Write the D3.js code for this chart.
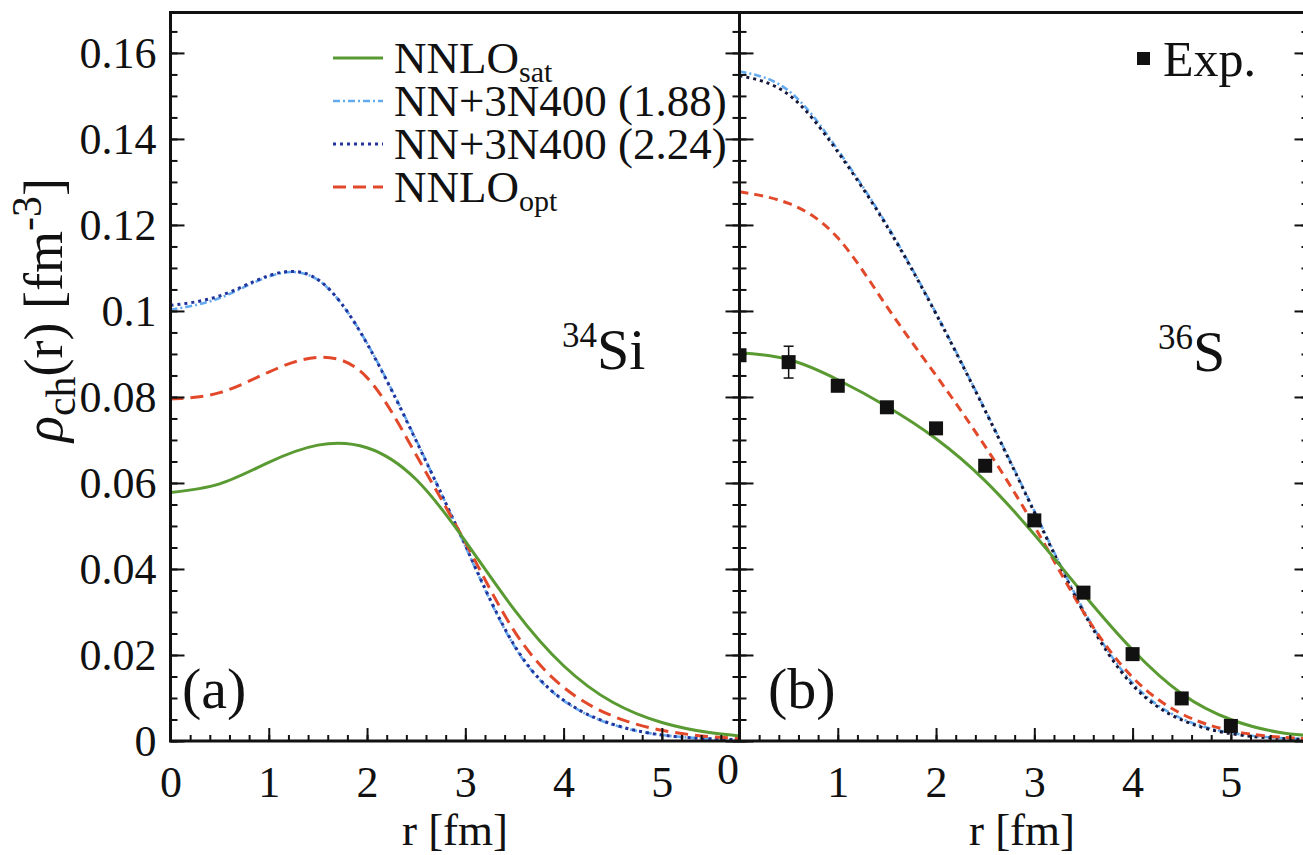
<!DOCTYPE html>
<html>
<head>
<meta charset="utf-8">
<script src="https://cdn.jsdelivr.net/npm/d3@7"></script>
<style>
body { margin: 0; background: #fff; }
text { font-family: "Liberation Serif", "Times New Roman", serif; fill: #111; }
</style>
</head>
<body>
<svg id="chart" width="1303" height="855"></svg>
<script>
// radius grid (fm) the curves were read on
var rGrid = [0, 0.5, 1, 1.5, 2, 2.5, 3, 3.5, 4, 4.5, 5, 5.5, 6];

// (a) 34Si
var satA  = [0.0578, 0.0598, 0.0648, 0.0688, 0.0682, 0.0608, 0.0465, 0.0305, 0.0175, 0.0090, 0.0043, 0.0019, 0.0008];
var n188A = [0.1003, 0.1030, 0.1080, 0.1072, 0.0925, 0.0700, 0.0453, 0.0220, 0.0094, 0.0038, 0.0014, 0.0005, 0.0002];
var n224A = [0.1013, 0.1035, 0.1082, 0.1073, 0.0924, 0.0698, 0.0455, 0.0222, 0.0095, 0.0039, 0.0014, 0.0005, 0.0002];
var optA  = [0.0795, 0.0810, 0.0858, 0.0892, 0.0845, 0.0665, 0.0462, 0.0255, 0.0125, 0.0058, 0.0025, 0.0010, 0.0004];

// (b) 36S
var satB  = [0.0903, 0.0887, 0.0840, 0.0778, 0.0703, 0.0605, 0.0480, 0.0342, 0.0212, 0.0110, 0.0050, 0.0020, 0.0009];
var n188B = [0.1557, 0.1512, 0.1375, 0.1200, 0.0995, 0.0770, 0.0535, 0.0305, 0.0135, 0.0052, 0.0019, 0.0007, 0.0003];
var n224B = [0.1547, 0.1503, 0.1370, 0.1197, 0.0993, 0.0768, 0.0532, 0.0300, 0.0130, 0.0049, 0.0017, 0.0006, 0.0002];
var optB  = [0.1277, 0.1250, 0.1170, 0.1010, 0.0850, 0.0685, 0.0500, 0.0300, 0.0148, 0.0063, 0.0024, 0.0009, 0.0004];

// experiment, 36S
var expR   = [0, 0.5, 1, 1.5, 2, 2.5, 3, 3.5, 4, 4.5, 5];
var expRho = [0.0897, 0.0881, 0.0826, 0.0776, 0.0727, 0.0640, 0.0513, 0.0345, 0.0202, 0.0099, 0.0035];
var expErr = [0.0010, 0.0037, 0.0008, 0.0008, 0.0008, 0.0008, 0.0008, 0.0008, 0.0006, 0.0005, 0.0004];

var yTicks = [0, 0.02, 0.04, 0.06, 0.08, 0.1, 0.12, 0.14, 0.16];
var xTicks = [0, 1, 2, 3, 4, 5];
var legendNames = ["NNLO", "NN+3N400 (1.88)", "NN+3N400 (2.24)", "NNLO"];
var legendSubs = ["sat", "", "", "opt"];

var svg = d3.select('#chart');
svg.append('rect').attr('width', 1303).attr('height', 855).attr('fill', '#fff');

var y = d3.scaleLinear().domain([0, 0.1694]).range([741, 12.5]);
var xa = d3.scaleLinear().domain([0, 5.79]).range([170.5, 739.5]);
var xb = d3.scaleLinear().domain([0, 5.79]).range([739.5, 1308.5]);

var fmt = function (d) { return d === 0 ? "0" : d3.format(".2~f")(d); };
var yMinor = d3.range(0, 0.1691, 0.005);
var xMinor = d3.range(0, 5.79, 0.2);

var styles = [
  { color: '#64aaf0', dash: '7,3,2,3', w: 2.6 },   // 1.88
  { color: '#23339c', dash: '3,4', w: 3 },          // 2.24
  { color: '#e2492b', dash: '13,7', w: 3 },         // opt
  { color: '#5a9a32', dash: null, w: 3 }            // sat
];

function fixAxis(g, size) {
  g.select('.domain').remove();
  g.attr('font-family', null).attr('font-size', null);
  g.selectAll('line').attr('stroke', '#111').attr('stroke-width', 2);
  g.selectAll('text').style('font-size', size + 'px');
}

var drawPanel = function (x, series, id, dotColor, redDash) {
  var x0 = x.range()[0], x1 = x.range()[1];
  svg.append('clipPath').attr('id', id)
    .append('rect').attr('x', x0).attr('y', 12.5).attr('width', x1 - x0).attr('height', 741 - 12.5);

  var line = d3.line()
    .x(function (d, i) { return x(rGrid[i]); })
    .y(function (d) { return y(d); })
    .curve(d3.curveNatural);

  var g = svg.append('g').attr('clip-path', 'url(#' + id + ')');
  series.forEach(function (s, i) {
    var st = styles[i];
    g.append('path')
      .attr('d', line(s))
      .attr('fill', 'none')
      .attr('stroke', i === 1 ? dotColor : st.color)
      .attr('stroke-width', st.w)
      .attr('stroke-dasharray', i === 2 ? redDash : st.dash);
  });

  // bottom ticks
  var bx = svg.append('g').attr('transform', 'translate(0,741)')
    .call(d3.axisBottom(x).tickValues(xMinor).tickSizeInner(-6).tickSizeOuter(0).tickFormat(''));
  fixAxis(bx, 44);
  var bm = svg.append('g').attr('transform', 'translate(0,741)')
    .call(d3.axisBottom(x).tickValues(xTicks).tickSizeInner(-13).tickSizeOuter(0).tickPadding(25).tickFormat(d3.format('d')));
  fixAxis(bm, 44);
  return bm;
};

drawPanel(xa, [n188A, n224A, optA, satA], 'clipA', '#23339c', '13,7');
var bmB = drawPanel(xb, [n188B, n224B, optB, satB], 'clipB', '#16163a', '9,6');
// the "0" of panel (b) sits up and to the left, as in the original
bmB.selectAll('.tick').filter(function (d) { return d === 0; })
  .select('text').attr('x', -12).attr('y', 12);

// y axes: left of (a), divider, right edge of (b)
var yl = svg.append('g').attr('transform', 'translate(170.5,0)')
  .call(d3.axisLeft(y).tickValues(yTicks).tickSizeInner(-14).tickSizeOuter(0).tickPadding(14).tickFormat(fmt));
fixAxis(yl, 44);
var ylm = svg.append('g').attr('transform', 'translate(170.5,0)')
  .call(d3.axisLeft(y).tickValues(yMinor).tickSizeInner(-7).tickSizeOuter(0).tickFormat(''));
fixAxis(ylm, 44);

[[739.5, 14], [739.5, -14], [1308.5, 14]].forEach(function (p) {
  var mj = svg.append('g').attr('transform', 'translate(' + p[0] + ',0)')
    .call(d3.axisLeft(y).tickValues(yTicks).tickSizeInner(p[1]).tickSizeOuter(0).tickFormat(''));
  fixAxis(mj, 44);
  var mn = svg.append('g').attr('transform', 'translate(' + p[0] + ',0)')
    .call(d3.axisLeft(y).tickValues(yMinor).tickSizeInner(p[1] / 2).tickSizeOuter(0).tickFormat(''));
  fixAxis(mn, 44);
});

// experimental points, clipped to panel (b)
var ex = svg.append('g').attr('clip-path', 'url(#clipB)');
ex.selectAll('line.err').data(expR).enter().append('line')
  .attr('x1', function (d) { return xb(d); }).attr('x2', function (d) { return xb(d); })
  .attr('y1', function (d, i) { return y(expRho[i] - expErr[i]); })
  .attr('y2', function (d, i) { return y(expRho[i] + expErr[i]); })
  .attr('stroke', '#111').attr('stroke-width', 1.5);
ex.selectAll('line.cap').data(expR.concat(expR)).enter().append('line')
  .attr('x1', function (d) { return xb(d) - 5; }).attr('x2', function (d) { return xb(d) + 5; })
  .attr('y1', function (d, i) { var k = i % expR.length; return y(expRho[k] + (i < expR.length ? expErr[k] : -expErr[k])); })
  .attr('y2', function (d, i) { var k = i % expR.length; return y(expRho[k] + (i < expR.length ? expErr[k] : -expErr[k])); })
  .attr('stroke', '#111').attr('stroke-width', 1.5);
ex.selectAll('rect').data(expR).enter().append('rect')
  .attr('x', function (d) { return xb(d) - 7; })
  .attr('y', function (d, i) { return y(expRho[i]) - 7; })
  .attr('width', 14).attr('height', 14).attr('fill', '#111');

// frame
var frame = svg.append('g').attr('stroke', '#111').attr('stroke-width', 3).attr('fill', 'none');
frame.append('line').attr('x1', 169).attr('x2', 1310).attr('y1', 12.5).attr('y2', 12.5);
frame.append('line').attr('x1', 169).attr('x2', 1310).attr('y1', 741).attr('y2', 741);
frame.append('line').attr('x1', 170.5).attr('x2', 170.5).attr('y1', 12.5).attr('y2', 741);
frame.append('line').attr('x1', 739.5).attr('x2', 739.5).attr('y1', 12.5).attr('y2', 741);

// legend (a)
var leg = svg.append('g');
legendNames.forEach(function (name, i) {
  var st = styles[[3, 0, 1, 2][i]];
  var ly = 58 + i * 43;
  leg.append('line').attr('x1', 333).attr('x2', 383).attr('y1', ly).attr('y2', ly)
    .attr('stroke', st.color).attr('stroke-width', st.w).attr('stroke-dasharray', st.dash);
  var t = leg.append('text').attr('x', 394).attr('y', ly + 15).style('font-size', '45px').text(name);
  if (legendSubs[i]) {
    t.append('tspan').attr('dy', 9).style('font-size', '30px').text(legendSubs[i]);
  }
});

// legend (b)
svg.append('rect').attr('x', 1137).attr('y', 52).attr('width', 13).attr('height', 13).attr('fill', '#111');
svg.append('text').attr('x', 1163).attr('y', 76).style('font-size', '50px').text('Exp.');

// nucleus and panel labels
var nuc = function (xp, yp, a, sym) {
  var t = svg.append('text').attr('x', xp).attr('y', yp).style('font-size', '58px');
  t.append('tspan').attr('dy', -22).style('font-size', '35px').text(a);
  t.append('tspan').attr('dy', 22).text(sym);
};
nuc(562, 369, '34', 'Si');
nuc(1158, 371, '36', 'S');
svg.append('text').attr('x', 182).attr('y', 708).style('font-size', '58px').text('(a)');
svg.append('text').attr('x', 768).attr('y', 708).style('font-size', '58px').text('(b)');

// axis titles
svg.append('text').attr('x', 455).attr('y', 845).attr('text-anchor', 'middle').style('font-size', '45px').text('r [fm]');
svg.append('text').attr('x', 1022).attr('y', 845).attr('text-anchor', 'middle').style('font-size', '45px').text('r [fm]');

var yl2 = svg.append('text').attr('transform', 'translate(62,310) rotate(-90)')
  .attr('text-anchor', 'middle').style('font-size', '54px');
yl2.append('tspan').style('font-style', 'italic').text('ρ');
yl2.append('tspan').attr('dy', 13).style('font-size', '42px').text('ch');
yl2.append('tspan').attr('dy', -13).text('(r) [fm');
yl2.append('tspan').attr('dy', -21).style('font-size', '42px').text('-3');
yl2.append('tspan').attr('dy', 21).text(']');
</script>
</body>
</html>
